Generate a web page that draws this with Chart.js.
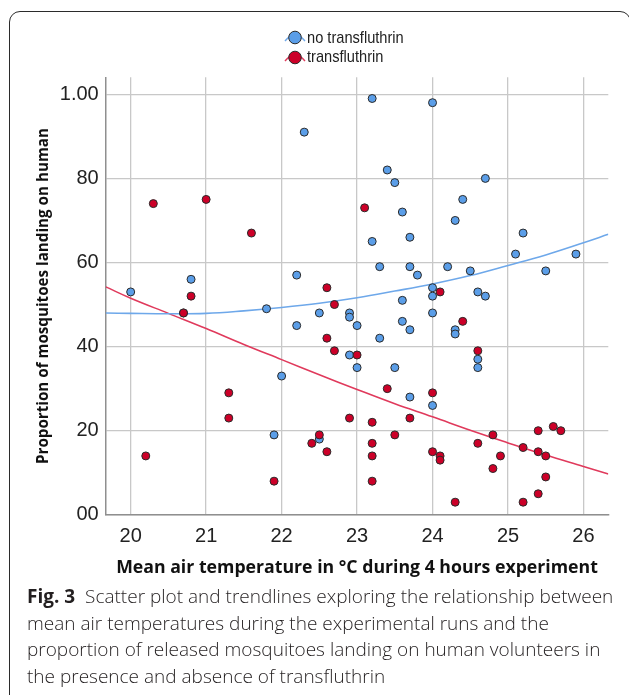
<!DOCTYPE html>
<html><head><meta charset="utf-8">
<script src="https://cdn.jsdelivr.net/npm/chart.js@4/dist/chart.umd.min.js"></script>
<style>
html,body{margin:0;padding:0;background:#fff;width:629px;height:695px;overflow:hidden;}
#frame{position:absolute;left:9px;top:11px;width:622px;height:700px;border:1.5px solid #2b2b2b;border-radius:11px;box-sizing:border-box;}
#wrap{position:absolute;left:0;top:0;width:629px;height:590px;}
#legend{position:absolute;left:284px;top:28px;font-family:"Liberation Sans",Arial,sans-serif;font-size:17px;color:#222;}
.item{display:flex;align-items:center;height:19.5px;}
.item span{margin-left:1px;display:inline-block;transform:scaleX(0.86);transform-origin:left center;}
#caption{position:absolute;left:27px;top:583px;font-family:"Open Sans",sans-serif;font-weight:300;font-size:19px;line-height:26.6px;color:#231f20;white-space:nowrap;}
#caption b{font-weight:700;}
</style></head>
<body>
<div id="frame"></div>
<div id="wrap"><canvas id="c" width="629" height="590"></canvas></div>
<div id="legend">
  <div class="item"><svg width="22" height="19" viewBox="0 0 22 19"><path d="M1,13 Q11,1 21,13" fill="none" stroke="#6ea8ea" stroke-width="1.4"/><circle cx="11" cy="9.5" r="6.3" fill="#5b9ee8" stroke="#2a2a2a" stroke-width="1"/></svg><span>no transfluthrin</span></div>
  <div class="item"><svg width="22" height="19" viewBox="0 0 22 19"><path d="M1,13 Q11,1 21,13" fill="none" stroke="#e03a5c" stroke-width="1.4"/><circle cx="11" cy="9.5" r="6.3" fill="#cc0028" stroke="#2a2a2a" stroke-width="1"/></svg><span>transfluthrin</span></div>
</div>
<div id="caption"><b>Fig. 3</b>&nbsp; Scatter plot and trendlines exploring the relationship between<br>mean air temperatures during the experimental runs and the<br>proportion of released mosquitoes landing on human volunteers in<br>the presence and absence of transfluthrin</div>
<script>
// ---- data ----
const seriesNames = ['no transfluthrin', 'transfluthrin'];
const noTfTemp = [20.0,20.7,20.8,21.8,21.9,22.0,22.2,22.2,22.3,22.5,22.5,22.9,22.9,22.9,23.0,23.0,23.2,23.2,23.3,23.3,23.4,23.5,23.5,23.6,23.6,23.6,23.7,23.7,23.7,23.7,23.8,24.0,24.0,24.0,24.0,24.0,24.2,24.3,24.3,24.3,24.4,24.5,24.6,24.6,24.6,24.7,24.7,25.1,25.2,25.5,25.9];
const noTfProp = [0.53,0.48,0.56,0.49,0.19,0.33,0.57,0.45,0.91,0.48,0.18,0.48,0.47,0.38,0.45,0.35,0.99,0.65,0.59,0.42,0.82,0.79,0.35,0.72,0.51,0.46,0.66,0.59,0.44,0.28,0.57,0.98,0.54,0.52,0.48,0.26,0.59,0.70,0.44,0.43,0.75,0.58,0.53,0.37,0.35,0.80,0.52,0.62,0.67,0.58,0.62];
const tfTemp = [20.2,20.3,20.7,20.8,21.0,21.3,21.3,21.6,21.9,22.4,22.5,22.6,22.6,22.6,22.7,22.7,22.9,23.0,23.1,23.2,23.2,23.2,23.2,23.4,23.5,23.7,24.0,24.0,24.1,24.1,24.1,24.3,24.4,24.6,24.6,24.8,24.8,24.9,25.2,25.2,25.4,25.4,25.4,25.5,25.5,25.6,25.7];
const tfProp = [0.14,0.74,0.48,0.52,0.75,0.29,0.23,0.67,0.08,0.17,0.19,0.54,0.42,0.15,0.50,0.39,0.23,0.38,0.73,0.22,0.17,0.14,0.08,0.30,0.19,0.23,0.29,0.15,0.53,0.14,0.13,0.03,0.46,0.39,0.17,0.19,0.11,0.14,0.16,0.03,0.20,0.15,0.05,0.14,0.09,0.21,0.20];
// trendlines
const trendTemp = [19.67,20,20.5,21,21.5,22,22.5,23,23.5,24,24.5,25,25.5,26,26.33];
const noTfTrend = [0.480,0.479,0.478,0.479,0.485,0.493,0.503,0.516,0.532,0.549,0.569,0.593,0.618,0.647,0.667];
const tfTrend   = [0.542,0.515,0.479,0.443,0.405,0.369,0.333,0.298,0.264,0.233,0.201,0.171,0.142,0.115,0.097];
const xTicks = [20,21,22,23,24,25,26];
const yTicks = [0,0.2,0.4,0.6,0.8,1.0];
const yTickLabels = ['00','20','40','60','80','1.00'];
const xTitle = 'Mean air temperature in °C during 4 hours experiment';
const yTitle = 'Proportion of mosquitoes landing on human';

const pts = (xs, ys) => xs.map((x, i) => ({x: x, y: ys[i]}));
const BLUE = '#5b9ee8', RED = '#cc0028', BLUE_LINE = '#6ea8ea', RED_LINE = '#e03a5c';

new Chart(document.getElementById('c'), {
  type: 'scatter',
  data: {
    datasets: [
      {label: seriesNames[1], data: pts(tfTemp, tfProp), backgroundColor: RED, borderColor: '#2a2a2a', borderWidth: 1, pointRadius: 4, order: 0},
      {label: seriesNames[0], data: pts(noTfTemp, noTfProp), backgroundColor: BLUE, borderColor: '#2a2a2a', borderWidth: 1, pointRadius: 4, order: 1},
      {label: seriesNames[0] + ' trend', data: pts(trendTemp, noTfTrend), showLine: true, borderColor: BLUE_LINE, borderWidth: 1.6, pointRadius: 0, tension: 0.4, fill: false, order: 2},
      {label: seriesNames[1] + ' trend', data: pts(trendTemp, tfTrend), showLine: true, borderColor: RED_LINE, borderWidth: 1.6, pointRadius: 0, tension: 0.4, fill: false, order: 3}
    ]
  },
  options: {
    responsive: false,
    animation: false,
    devicePixelRatio: 1,
    events: [],
    layout: {padding: {left: 0, top: 77.3, right: 20.7, bottom: 0}},
    plugins: {legend: {display: false}, tooltip: {enabled: false}},
    scales: {
      x: {
        type: 'linear', min: 19.669, max: 26.329,
        afterBuildTicks: s => { s.ticks = xTicks.map(v => ({value: v})); },
        afterFit: s => { s.height = 590 - 514.8; },
        ticks: {font: {family: 'Liberation Sans, Arial, sans-serif', size: 20}, color: '#222', padding: 10, maxRotation: 0, autoSkip: false, callback: v => String(v)},
        grid: {color: '#c8c8c8', lineWidth: 1.3, drawTicks: false},
        border: {color: '#8f8f8f', width: 1.5},
        title: {display: true, text: xTitle, color: '#111', font: {family: 'Open Sans, sans-serif', weight: 'bold', size: 17.7}, padding: {top: 0, bottom: 11.4}}
      },
      y: {
        type: 'linear', min: 0, max: 1.0404,
        afterBuildTicks: s => { s.ticks = yTicks.map(v => ({value: v})); },
        afterFit: s => { s.width = 105.7; },
        ticks: {font: {family: 'Liberation Sans, Arial, sans-serif', size: 20}, color: '#222', padding: 7, autoSkip: false, callback: (v, i) => yTickLabels[i]},
        grid: {color: '#c8c8c8', lineWidth: 1.3, drawTicks: false},
        border: {color: '#8f8f8f', width: 1.5},
        title: {display: true, text: yTitle, color: '#111', font: {family: 'Open Sans, sans-serif', weight: 'bold', size: 15.2}, padding: {top: 34.2, bottom: 0}}
      }
    }
  }
});
</script>
</body></html>
